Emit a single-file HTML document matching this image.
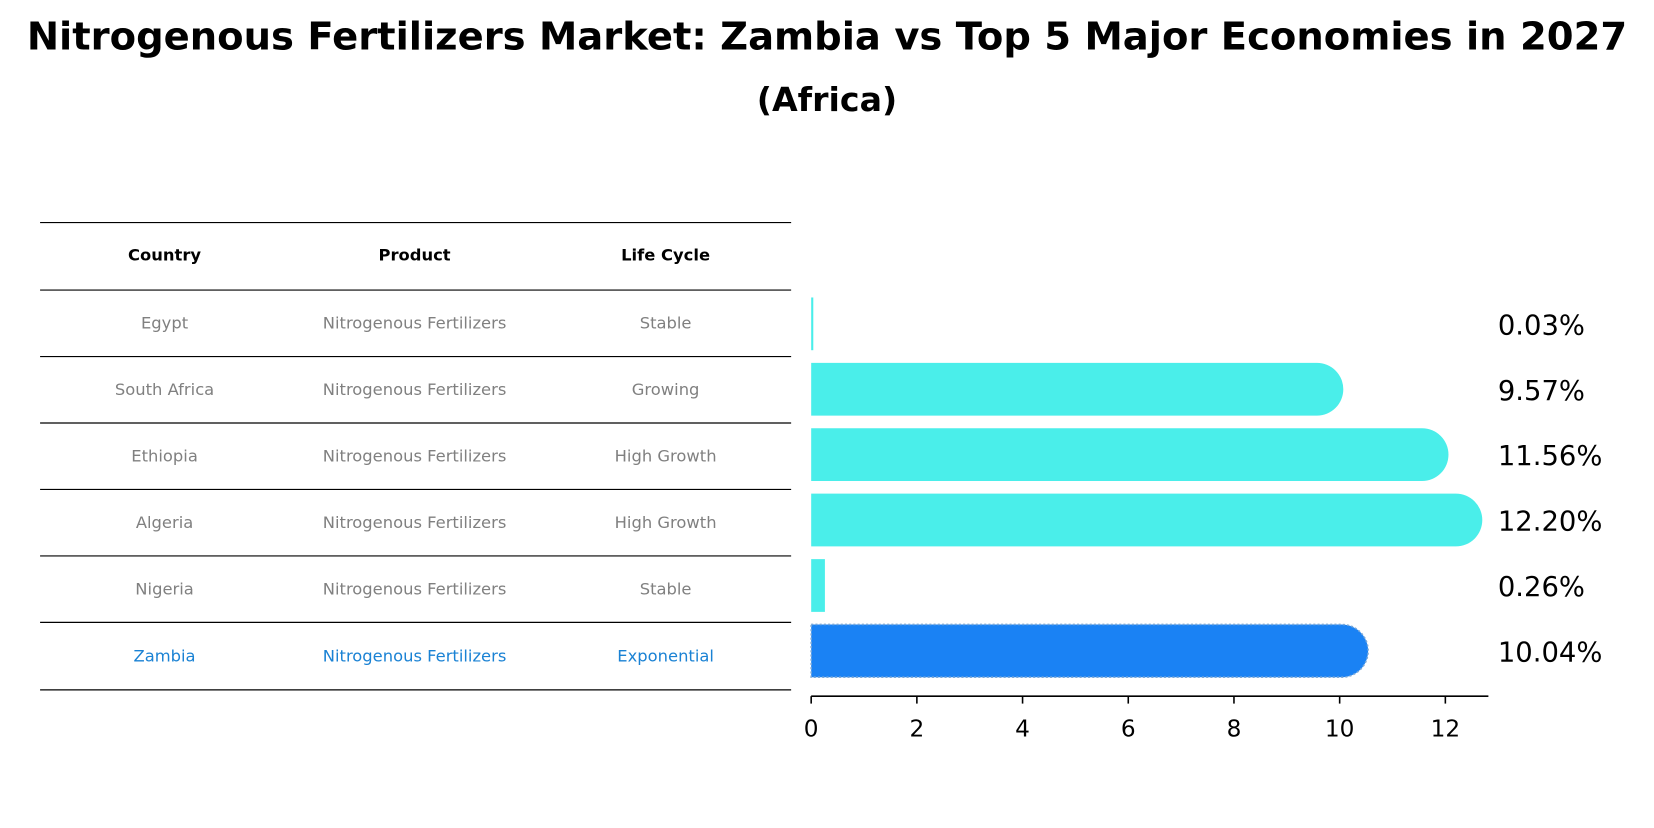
<!DOCTYPE html>
<html><head><meta charset="utf-8"><style>
body{margin:0;background:#fff;font-family:"Liberation Sans","DejaVu Sans",sans-serif}
svg text{font-family:"DejaVu Sans","Liberation Sans",sans-serif}
</style></head><body>
<svg id="c" width="1654" height="823" viewBox="0 0 1568 780.2" preserveAspectRatio="none" xmlns="http://www.w3.org/2000/svg">
<text x="784" y="47" text-anchor="middle" font-size="36.5" font-weight="bold">Nitrogenous Fertilizers Market: Zambia vs Top 5 Major Economies in 2027</text>
<text x="784" y="105" text-anchor="middle" font-size="31.5" font-weight="bold">(Africa)</text>
<g id="table"></g>
<g id="bars"></g>
</svg>
<script>
const countries=["Egypt","South Africa","Ethiopia","Algeria","Nigeria","Zambia"];
const products=["Nitrogenous Fertilizers","Nitrogenous Fertilizers","Nitrogenous Fertilizers","Nitrogenous Fertilizers","Nitrogenous Fertilizers","Nitrogenous Fertilizers"];
const lifeCycles=["Stable","Growing","High Growth","High Growth","Stable","Exponential"];
const values=[0.03,9.57,11.56,12.20,0.26,10.04];
const valueLabels=["0.03%","9.57%","11.56%","12.20%","0.26%","10.04%"];
const ticks=[0,2,4,6,8,10,12];
const NS="http://www.w3.org/2000/svg";
function mk(tag,attrs,parent){const e=document.createElementNS(NS,tag);for(const k in attrs)e.setAttribute(k,attrs[k]);parent.appendChild(e);return e;}
const tbl=document.getElementById('table');
const rowY=[211,275,338,401,464,527,590,654];
const colX=[156,393,631];
rowY.forEach((y,i)=>{const l=mk('line',{x1:38,x2:750,y1:y,y2:y,stroke:'#000','stroke-width':1.1},tbl);

});
["Country","Product","Life Cycle"].forEach((h,j)=>{const t=mk('text',{x:colX[j],y:247,'text-anchor':'middle','font-size':15.5,'font-weight':'bold'},tbl);t.textContent=h;

});
countries.forEach((c,i)=>{const y=(rowY[i+1]+rowY[i+2])/2+5;const col=c==="Zambia"?'#1a82d4':'#808080';
[c,products[i],lifeCycles[i]].forEach((v,j)=>{const t=mk('text',{x:colX[j],y:y,'text-anchor':'middle','font-size':15.5,fill:col},tbl);t.textContent=v;

});});
const g=document.getElementById('bars');
const x0=769,pxPer=50.1;
const xs=v=>x0+v*pxPer;
const rowC=i=>307+i*62;
const bh=50,r=25;
values.forEach((v,i)=>{const cy=rowC(i);const isZ=countries[i]==="Zambia";const col=isZ?'#1a82f4':'#4aeeea';
const w=xs(v)-x0;
let d;
if(v<1){const ww=Math.max(w,2);d=`M${x0},${cy-bh/2}h${ww}v${bh}h${-ww}z`;}
else{d=`M${x0},${cy-bh/2}H${xs(v)}A${r},${r} 0 0 1 ${xs(v)},${cy+bh/2}H${x0}z`;}
const p=mk('path',{d:d,fill:col},g);
if(isZ){p.setAttribute('stroke','#7aa8d8');p.setAttribute('stroke-dasharray','2,2');p.setAttribute('stroke-width','1.5');}


const t=mk('text',{x:1420,y:cy+10,'font-size':26},g);t.textContent=valueLabels[i];

});
const ax=mk('line',{x1:x0,x2:1411,y1:660,y2:660,stroke:'#000','stroke-width':1.5},g);


ticks.forEach(tk=>{const l=mk('line',{x1:xs(tk),x2:xs(tk),y1:660,y2:667,stroke:'#000','stroke-width':1.5},g);


const t=mk('text',{x:xs(tk),y:698,'text-anchor':'middle','font-size':22},g);t.textContent=tk;

});
</script>
</body></html>
